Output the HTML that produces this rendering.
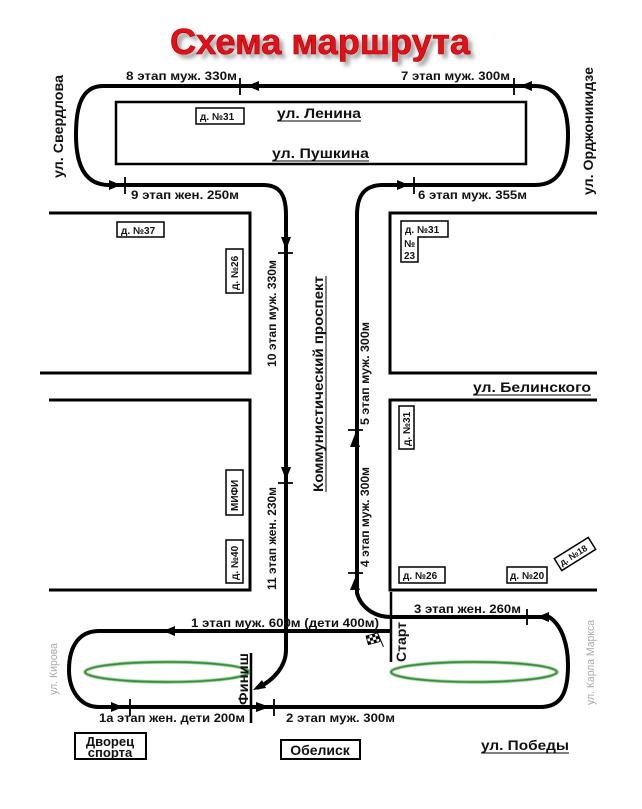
<!DOCTYPE html>
<html><head><meta charset="utf-8"><style>
html,body{margin:0;padding:0;background:#fff;}
svg{display:block;}
text{font-family:"Liberation Sans",sans-serif;font-weight:bold;fill:#111;}
</style></head><body>
<svg width="642" height="809" viewBox="0 0 642 809" xmlns="http://www.w3.org/2000/svg">
<defs>
<filter id="sh" x="-10%" y="-10%" width="130%" height="160%"><feGaussianBlur stdDeviation="2"/></filter>
<filter id="gb"><feGaussianBlur stdDeviation="0.6"/></filter>
</defs>
<!-- title -->
<text x="324" y="58" font-size="36" text-anchor="middle" textLength="300" lengthAdjust="spacingAndGlyphs" style="fill:#999" filter="url(#sh)">Схема маршрута</text>
<text x="320" y="54" font-size="36" text-anchor="middle" textLength="300" lengthAdjust="spacingAndGlyphs" style="fill:#e3101a;stroke:#a00;stroke-width:0.6">Схема маршрута</text>

<g fill="none" stroke="#000" stroke-width="4">
<!-- top loop -->
<path d="M535 86 H103 C80 86 76 110 76 135 C76 165 85 185 109 185 H263 C280 185 286 195 286 215 V650 C286 665 275 680 257 688"/>
<path d="M520 86 H535 C560 86 568 110 568 135 C568 165 560 185 535 185 H383 C365 185 357 195 357 215 V593 C360 605 372 617 391 617 H549 C562 625 568 645 568 665 C568 695 560 707 540 707 H99 C80 707 69 690 69 670 C69 645 80 631 99 631 H391"/>
</g>
<g fill="none" stroke="#000" stroke-width="3">
<!-- blocks -->
<path d="M49 213 H250 V373 H40"/>
<path d="M49 400 H250 V590 H49"/>
<path d="M597 213 H390 V373 H597"/>
<path d="M597 400 H390 V590 H597"/>
<rect x="116" y="102" width="410" height="62" stroke-width="2.5"/>
<!-- finish / start lines -->
<path d="M251 653 V723" stroke-width="2.5"/>
<path d="M391 592 V662" stroke-width="2.5"/>
</g>
<!-- ticks -->
<g stroke="#000" stroke-width="1.8">
<path d="M240 78 V95 M514 78 V95 M125 177 V194 M414 177 V194"/>
<path d="M278 253 H293 M278 483 H293 M348 430 H363 M348 573 H363"/>
<path d="M527 609 V625 M130 699 V716 M274 699 V716"/>
</g>
<!-- arrowheads -->
<g fill="#000">
<polygon points="247,86 259,81 259,91"/>
<polygon points="520,86 532,81 532,91"/>
<polygon points="121,185 109,180 109,190"/>
<polygon points="409,185 397,180 397,190"/>
<polygon points="286,250 281,237 291,237"/>
<polygon points="286,480 281,467 291,467"/>
<polygon points="355,434 350,447 360,447"/>
<polygon points="355,578 350,590 360,590"/>
<polygon points="163,631 175,626 175,636"/>
<polygon points="537,617 549,612 549,622"/>
<polygon points="123,707 111,702 111,712"/>
<polygon points="270,707 256,702 256,712"/>
<polygon points="253,690 262,680 266,688"/>
</g>
<!-- ellipses -->
<g fill="none" stroke="#2a8a2a" stroke-width="2.5" filter="url(#gb)">
<ellipse cx="167" cy="672" rx="82" ry="10"/>
<ellipse cx="474" cy="672" rx="83" ry="10"/>
</g>
<!-- labels -->
<g font-size="12">
<text x="126" y="80" textLength="111" lengthAdjust="spacingAndGlyphs">8 этап муж. 330м</text>
<text x="401" y="80" textLength="109" lengthAdjust="spacingAndGlyphs">7 этап муж. 300м</text>
<text x="131" y="199" textLength="108" lengthAdjust="spacingAndGlyphs">9 этап жен. 250м</text>
<text x="418" y="199" textLength="109" lengthAdjust="spacingAndGlyphs">6 этап муж. 355м</text>
<text x="414" y="613" textLength="107" lengthAdjust="spacingAndGlyphs">3 этап жен. 260м</text>
<text x="191" y="627" textLength="188" lengthAdjust="spacingAndGlyphs">1 этап муж. 600м (дети 400м)</text>
<text x="99" y="722" textLength="146" lengthAdjust="spacingAndGlyphs">1а этап жен. дети 200м</text>
<text x="286" y="722" textLength="109" lengthAdjust="spacingAndGlyphs">2 этап муж. 300м</text>
<text transform="translate(276,367) rotate(-90)" textLength="107" lengthAdjust="spacingAndGlyphs">10 этап муж. 330м</text>
<text transform="translate(276,590) rotate(-90)" textLength="103" lengthAdjust="spacingAndGlyphs">11 этап жен. 230м</text>
<text transform="translate(369,425) rotate(-90)" textLength="103" lengthAdjust="spacingAndGlyphs">5 этап муж. 300м</text>
<text transform="translate(369,567) rotate(-90)" textLength="100" lengthAdjust="spacingAndGlyphs">4 этап муж. 300м</text>
</g>
<g font-size="14">
<text x="277" y="118" textLength="84" lengthAdjust="spacingAndGlyphs">ул. Ленина</text>
<line x1="277" y1="121" x2="361" y2="121" stroke="#000" stroke-width="1"/>
<text x="272" y="158" textLength="97" lengthAdjust="spacingAndGlyphs">ул. Пушкина</text>
<line x1="272" y1="161" x2="369" y2="161" stroke="#000" stroke-width="1"/>
<text x="473" y="392" textLength="118" lengthAdjust="spacingAndGlyphs">ул. Белинского</text>
<line x1="473" y1="395" x2="591" y2="395" stroke="#000" stroke-width="1"/>
<text x="481" y="750" textLength="88" lengthAdjust="spacingAndGlyphs">ул. Победы</text>
<line x1="481" y1="753" x2="569" y2="753" stroke="#000" stroke-width="1"/>
<text transform="translate(63,178) rotate(-90)" textLength="103" lengthAdjust="spacingAndGlyphs">ул. Свердлова</text>
<text transform="translate(593,195) rotate(-90)" textLength="128" lengthAdjust="spacingAndGlyphs">ул. Орджоникидзе</text>
<text transform="translate(323,492) rotate(-90)" textLength="216" lengthAdjust="spacingAndGlyphs">Коммунистический проспект</text>
<line x1="326" y1="276" x2="326" y2="492" stroke="#000" stroke-width="1"/>
<text transform="translate(248,705) rotate(-90)" textLength="52" lengthAdjust="spacingAndGlyphs">Финиш</text>
<text transform="translate(406,662) rotate(-90)" textLength="40" lengthAdjust="spacingAndGlyphs">Старт</text>
</g>
<g font-size="11" style="fill:#aaa">
<text transform="translate(57,695) rotate(-90)" style="fill:#aaa;font-weight:normal" textLength="52" lengthAdjust="spacingAndGlyphs">ул. Кирова</text>
<text transform="translate(594,705) rotate(-90)" style="fill:#aaa;font-weight:normal" textLength="85" lengthAdjust="spacingAndGlyphs">ул. Карла Маркса</text>
</g>
<!-- boxes -->
<g fill="#fff" stroke="#000" stroke-width="1.5">
<rect x="196" y="108" width="48" height="16"/>
<rect x="117" y="222" width="47" height="15"/>
<path d="M401 221 H448 V237 H418 V262 H401 Z"/>
<rect x="226" y="249" width="17" height="44"/>
<rect x="399" y="406" width="15" height="43"/>
<rect x="226" y="470" width="17" height="45"/>
<rect x="226" y="540" width="17" height="43"/>
<rect x="399" y="567" width="46" height="16"/>
<rect x="507" y="567" width="40" height="16"/>
<rect x="-20" y="-7" width="40" height="14" transform="translate(575,554) rotate(-32)"/>
<rect x="75" y="733" width="71" height="26" stroke-width="2"/>
<rect x="281" y="740" width="79" height="19" stroke-width="2"/>
</g>
<g font-size="10">
<text x="200" y="120">д. №31</text>
<text x="121" y="234">д. №37</text>
<text x="405" y="233">д. №31</text>
<text x="404" y="247">№</text>
<text x="404" y="259">23</text>
<text transform="translate(238,290) rotate(-90)">д. №26</text>
<text transform="translate(410,446) rotate(-90)">д. №31</text>
<text transform="translate(238,511) rotate(-90)">МИФИ</text>
<text transform="translate(238,580) rotate(-90)">д. №40</text>
<text x="403" y="579">д. №26</text>
<text x="510" y="579">д. №20</text>
<text transform="translate(575,558) rotate(-32)" text-anchor="middle" font-size="9">д. №18</text>
</g>
<g font-size="13">
<text x="110" y="746" text-anchor="middle">Дворец</text>
<text x="110" y="757" text-anchor="middle">спорта</text>
<text x="320" y="755" text-anchor="middle" font-size="14">Обелиск</text>
</g>
<!-- flag -->
<g transform="translate(366,636) rotate(-15)">
<rect x="0" y="0" width="12" height="9" fill="#fff" stroke="#000" stroke-width="0.8"/>
<rect x="0" y="0" width="3" height="3"/><rect x="6" y="0" width="3" height="3"/>
<rect x="3" y="3" width="3" height="3"/><rect x="9" y="3" width="3" height="3"/>
<rect x="0" y="6" width="3" height="3"/><rect x="6" y="6" width="3" height="3"/>
<line x1="12" y1="0" x2="14" y2="15" stroke="#000" stroke-width="1"/>
</g>
</svg>
</body></html>
